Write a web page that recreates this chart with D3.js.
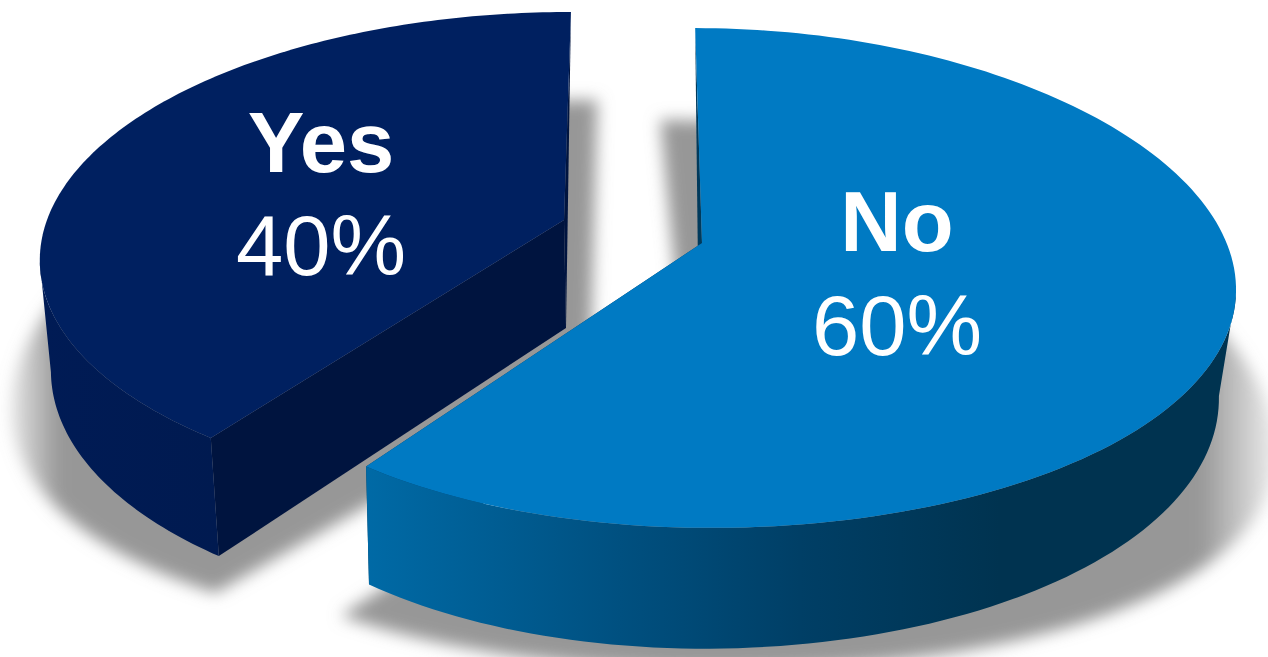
<!DOCTYPE html>
<html>
<head>
<meta charset="utf-8">
<script src="https://cdn.jsdelivr.net/npm/d3@7"></script>
<style>
html,body{margin:0;padding:0;background:#fff;overflow:hidden}
svg{display:block}
text{font-family:"Liberation Sans",Arial,sans-serif;fill:#fff;text-anchor:middle}
</style>
</head>
<body>
<svg id="chart" width="1268" height="657"></svg>
<script>
const categories = ["No", "Yes"];
const shares = [60, 40];

// Perspective settings per slice: disc centre, radii, foreshortening and lean.
const geometry = {
  No: {
    top:    {cx: 702, cy: 243, rx: 512, ry: 245, kx: .17, ky: .14, m: .024, s: 8},
    bottom: {cx: 699, cy: 351, rx: 499, ry: 256, kx: .17, ky: .14, m: .024, s: 5},
    shadow: {cx: 686, cy: 390, rx: 558, ry: 275, kx: .17, ky: .018, m: .03, s: 30},
    wall: [[365, "#006aa6"], [620, "#005080"], [800, "#003f66"], [1000, "#003350"], [1230, "#003350"]],
    topFill: "#007ac3", cut: "#003a5c",
    label: {x: 897, name: 251, value: 355},
    shadowFade: [[1200, 1], [1268, .25]]
  },
  Yes: {
    top:    {cx: 564, cy: 220, rx: 517, ry: 238, kx: .15, ky: .144, m: 0, s: -8},
    bottom: {cx: 566, cy: 328, rx: 508, ry: 250, kx: .15, ky: .14, m: 0, s: -8},
    shadow: {cx: 590, cy: 378, rx: 575, ry: 271, kx: .1, ky: -.025, m: 0, s: -8},
    wall: [[40, "#001b55"], [218, "#001a50"]],
    topFill: "#002060", cut: "#00143f",
    label: {x: 321, name: 172, value: 275},
    shadowFade: [[8, .2], [60, 1]]
  }
};

const svg = d3.select("#chart");
const defs = svg.append("defs");

defs.append("filter").attr("id", "soft")
  .attr("x", "-10%").attr("y", "-10%").attr("width", "120%").attr("height", "120%")
  .append("feGaussianBlur").attr("stdDeviation", 8);

const slices = d3.pie().sort(null).value(d => d.share)(
  categories.map((name, i) => ({name, share: shares[i]}))
);

// Maps a pie angle onto the tilted disc.
function project(g, angle) {
  const u = Math.sin(angle), v = -Math.cos(angle);
  return [
    g.cx + (g.rx * u + g.s * v) / (1 - g.kx * v - g.m * u),
    g.cy + g.ry * v / (1 - g.ky * v)
  ];
}

function arcPoints(g, a0, a1) {
  return d3.range(0, 161).map(i => project(g, a0 + (a1 - a0) * i / 160));
}

const line = d3.line().curve(d3.curveLinear);

function outerIndex(points, side) {
  const xs = points.map(p => p[0]);
  return side > 0 ? d3.maxIndex(xs) : d3.minIndex(xs);
}

const shadowLayer = svg.append("g");
const bodyLayer = svg.append("g");
const labelLayer = svg.append("g");

// Floor shadows go first so the gap between the slices reads as grey.
slices.forEach(sl => {
  const g = geometry[sl.data.name];
  const id = "fade" + sl.data.name;
  const grad = defs.append("linearGradient").attr("id", id)
    .attr("gradientUnits", "userSpaceOnUse")
    .attr("x1", g.shadowFade[0][0]).attr("x2", g.shadowFade[1][0]).attr("y1", 0).attr("y2", 0);
  g.shadowFade.forEach((st, i) => grad.append("stop")
    .attr("offset", i).attr("stop-color", "#979797").attr("stop-opacity", st[1]));
  const pts = arcPoints(g.shadow, sl.startAngle, sl.endAngle);
  pts.push([g.shadow.cx, g.shadow.cy]);
  shadowLayer.append("path")
    .attr("d", line(pts) + "Z")
    .attr("fill", `url(#${id})`)
    .attr("filter", "url(#soft)");
});

// Each slice: straight cut faces, curved rim, then the top surface.
slices.forEach(sl => {
  const g = geometry[sl.data.name];
  const name = sl.data.name;
  const a0 = sl.startAngle, a1 = sl.endAngle;
  const side = name === "No" ? 1 : -1;
  const backAngle = side > 0 ? a0 : a1;
  const frontAngle = side > 0 ? a1 : a0;
  const group = bodyLayer.append("g").attr("class", "slice-" + name);

  const topApex = [g.top.cx, g.top.cy], botApex = [g.bottom.cx, g.bottom.cy];

  // The face running to the back shows only as a sliver beside the top surface.
  group.append("path")
    .attr("d", line([project(g.top, backAngle), topApex, botApex]) + "Z")
    .attr("fill", g.cut);
  group.append("path")
    .attr("d", line([project(g.top, frontAngle), topApex, botApex, project(g.bottom, frontAngle)]) + "Z")
    .attr("fill", g.cut);

  const id = "wall" + name;
  const grad = defs.append("linearGradient").attr("id", id)
    .attr("gradientUnits", "userSpaceOnUse")
    .attr("x1", g.wall[0][0]).attr("x2", g.wall[g.wall.length - 1][0]).attr("y1", 0).attr("y2", 0);
  const span = g.wall[g.wall.length - 1][0] - g.wall[0][0];
  g.wall.forEach(st => grad.append("stop")
    .attr("offset", (st[0] - g.wall[0][0]) / span).attr("stop-color", st[1]));

  // The rim runs from the disc's outermost side round to its front end.
  const t = arcPoints(g.top, a0, a1), b = arcPoints(g.bottom, a0, a1);
  const rimTop = side > 0 ? t.slice(outerIndex(t, 1)) : t.slice(0, outerIndex(t, -1) + 1);
  const rimBot = side > 0 ? b.slice(outerIndex(b, 1)) : b.slice(0, outerIndex(b, -1) + 1);
  group.append("path").attr("d", line(rimTop.concat(rimBot.reverse())) + "Z")
    .attr("fill", `url(#${id})`);

  const surface = arcPoints(g.top, a0, a1);
  surface.push(topApex);
  group.append("path").attr("d", line(surface) + "Z").attr("fill", g.topFill);
});

slices.forEach(sl => {
  const g = geometry[sl.data.name];
  labelLayer.append("text").attr("x", g.label.x).attr("y", g.label.name)
    .attr("font-size", 85).attr("font-weight", "bold").text(sl.data.name);
  labelLayer.append("text").attr("x", g.label.x).attr("y", g.label.value)
    .attr("font-size", 85).text(sl.data.share + "%");
});
</script>
</body>
</html>
